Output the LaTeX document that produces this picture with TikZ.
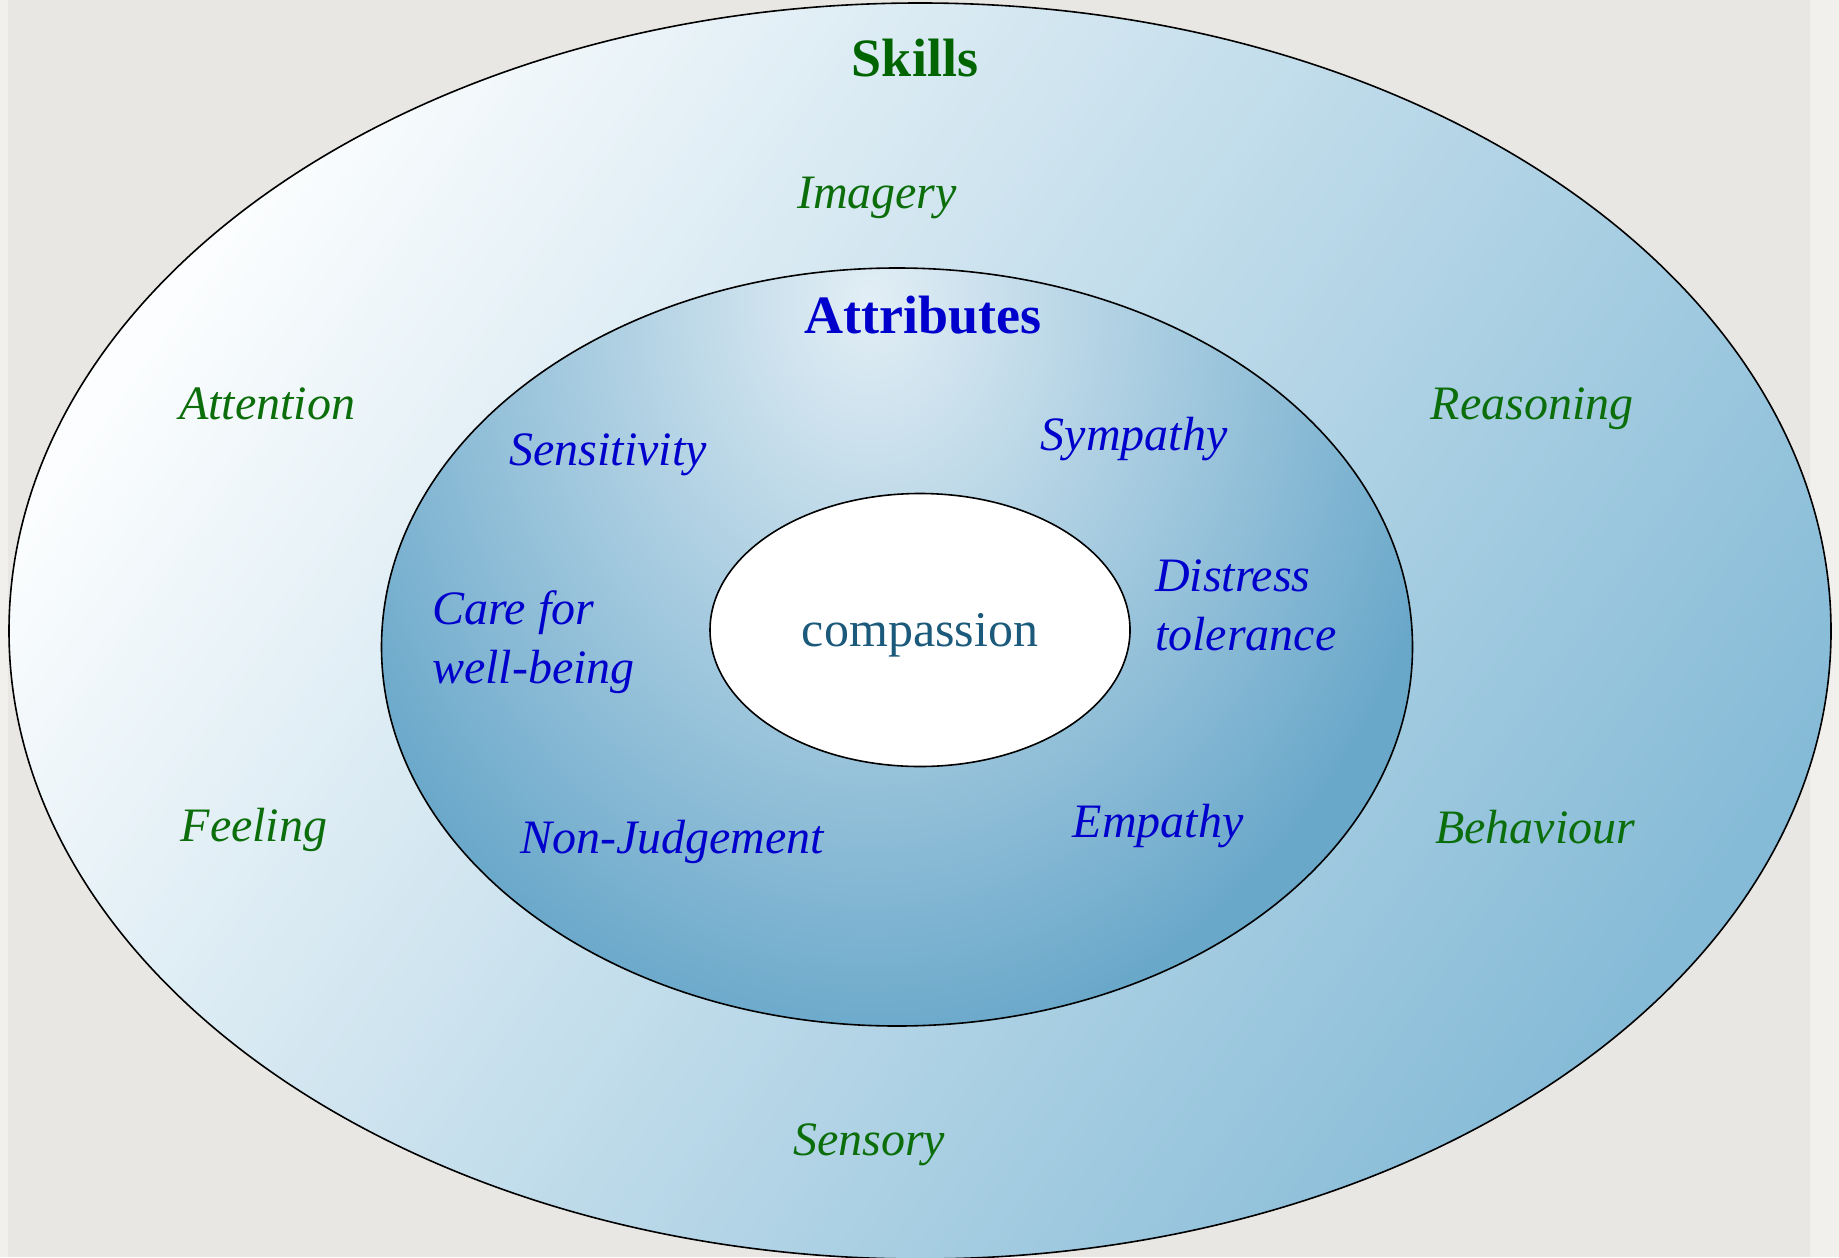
\documentclass[tikz,border=0pt]{standalone}
\usepackage{fontspec}
\setmainfont{Liberation Serif}
\usetikzlibrary{positioning, shapes.geometric}

\definecolor{paper}{HTML}{E9E7E3}
\definecolor{paperedge}{HTML}{F1F0ED}
\definecolor{skillgreen}{HTML}{006400}
\definecolor{itemgreen}{HTML}{0B6E0B}
\definecolor{attrblue}{HTML}{0000CC}
\definecolor{corecolor}{HTML}{1C5A7C}
\definecolor{skilllight}{HTML}{FBFDFE}
\definecolor{skilldark}{HTML}{86BBD7}
\definecolor{attrlight}{HTML}{E2EEF5}
\definecolor{attrdark}{HTML}{6AA8CA}

\begin{document}
\begin{tikzpicture}[
        x = 0.5pt, y = -0.5pt,
        every node/.style = {
            inner sep = 0pt,
            outer sep = 0pt
        },
        ring/.style = {
            draw = black,
            line width = 0.8pt,
            ellipse
        },
        heading/.style = {
            font = \fontsize{27}{30}\selectfont\bfseries,
            anchor = base
        },
        skill/.style = {
            font = \fontsize{24}{29.5}\selectfont\itshape,
            text = itemgreen,
            anchor = base
        },
        attribute/.style = {
            font = \fontsize{24}{29.5}\selectfont\itshape,
            text = attrblue,
            anchor = base
        }
    ]
        % paper
        \useasboundingbox (0,0) rectangle (1839,1257);
        \fill[paper] (0,0) rectangle (1839,1257);
        \fill[paperedge] (0,0) rectangle (8,1257);
        \fill[paperedge] (1810,0) rectangle (1839,1257);

        % the three rings
        \node[ring, minimum width = 911pt, minimum height = 628pt,
              top color = skilllight, bottom color = skilldark,
              shading angle = 55] (skills) at (920,631) {};
        % glow sits high up in the middle ring
        \node[ring, fill = attrdark, minimum width = 515.5pt, minimum height = 379pt,
              path picture = {
                  \shade[inner color = attrlight, outer color = attrdark]
                      ([shift = {(-13.5pt,173.5pt)}]path picture bounding box.center)
                      ellipse [x radius = 300pt, y radius = 375pt];
              }] (attributes) at (897,647) {};
        \node[ring, fill = white, minimum width = 210pt, minimum height = 136.5pt,
              text = corecolor, font = \fontsize{25}{30}\selectfont,
              text depth = 0pt] (core) at (920,630) {compassion};

        % headings
        \node[heading, text = skillgreen] (skillsTitle) at (915,77) {Skills};
        \node[heading, text = attrblue] (attributesTitle) at (923,333) {Attributes};

        % skills
        \node[skill] (imagery) at (877,209) {Imagery};
        \node[skill] (attention) at (267,419) {Attention};
        \node[skill] (reasoning) at (1532,419) {Reasoning};
        \node[skill] (feeling) at (254,841) {Feeling};
        \node[skill] (behaviour) at (1535,843) {Behaviour};
        \node[skill] (sensory) at (869,1155) {Sensory};

        % attributes (two-line ones sit on their last line)
        \node[attribute] (sensitivity) at (608,465) {Sensitivity};
        \node[attribute] (sympathy) at (1134,450) {Sympathy};
        \node[attribute, anchor = base west, align = left] (care) at (432,683) {Care for\\well-being};
        \node[attribute, anchor = base west, align = left] (distress) at (1155,650) {Distress\\tolerance};
        \node[attribute] (nonJudgement) at (672,853) {Non-Judgement};
        \node[attribute] (empathy) at (1158,837) {Empathy};
    \end{tikzpicture}
\end{document}
